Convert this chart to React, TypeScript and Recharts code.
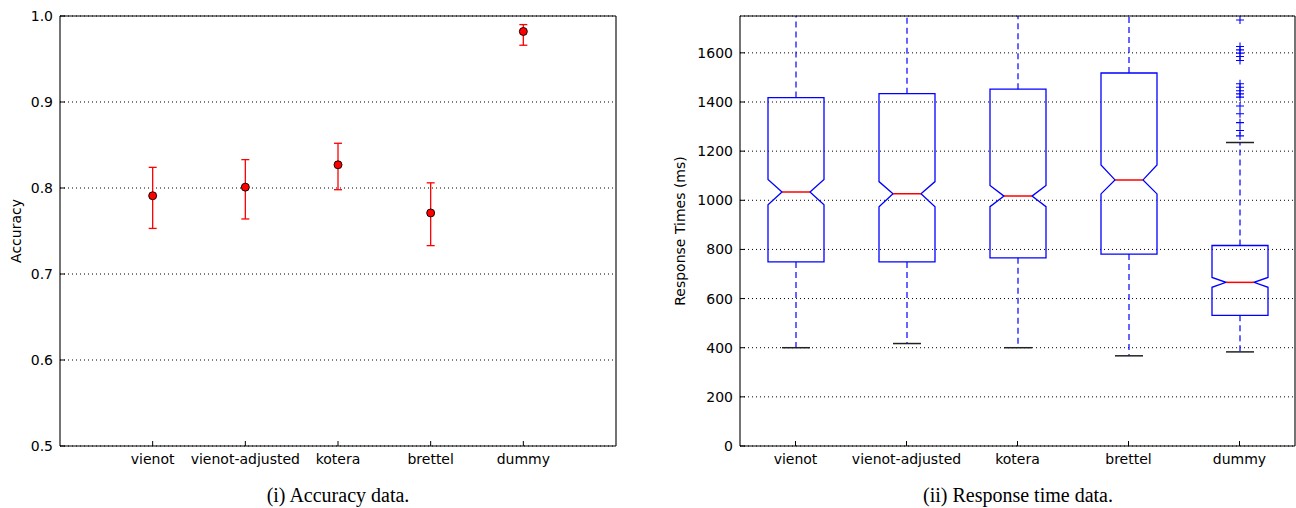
import React from 'react';
import {
  ComposedChart,
  Scatter,
  ErrorBar,
  Bar,
  XAxis,
  YAxis,
  CartesianGrid,
} from 'recharts';

// ---------- data ----------
const categories = ['vienot', 'vienot-adjusted', 'kotera', 'brettel', 'dummy'];

// Accuracy (mean with confidence interval)
const accuracyMean = [0.791, 0.801, 0.827, 0.771, 0.982];
const accuracyLow = [0.753, 0.764, 0.798, 0.733, 0.966];
const accuracyHigh = [0.824, 0.833, 0.852, 0.806, 0.99];
const accuracyTicks = [0.5, 0.6, 0.7, 0.8, 0.9, 1.0];

// Response times (notched box plot statistics, ms)
const rtWhiskerLow = [400, 417, 400, 367, 383];
const rtQ1 = [749, 749, 766, 781, 532];
const rtNotchLow = [982, 974, 974, 1026, 646];
const rtMedian = [1034, 1027, 1017, 1083, 666];
const rtNotchHigh = [1085, 1076, 1060, 1144, 686];
const rtQ3 = [1418, 1434, 1452, 1518, 816];
const rtWhiskerHigh = [2400, 2450, 2480, 2600, 1235];
const dummyOutliers = [
  1262, 1284, 1316, 1352, 1384, 1420, 1433, 1446, 1460, 1474, 1569, 1585, 1599,
  1612, 1626, 1734,
];
const rtOutliers = [[], [], [], [], dummyOutliers];
const rtTicks = [0, 200, 400, 600, 800, 1000, 1200, 1400, 1600];

// ---------- tables ----------
const accuracyData = categories.map((name, i) => ({
  name,
  pos: i + 1,
  acc: accuracyMean[i],
  err: [accuracyMean[i] - accuracyLow[i], accuracyHigh[i] - accuracyMean[i]],
}));
const catPositions = categories.map((_, i) => i + 1);

const rtData = categories.map((name, i) => ({
  name,
  box: [rtQ1[i], rtQ3[i]],
  q1: rtQ1[i],
  q3: rtQ3[i],
  wl: rtWhiskerLow[i],
  wh: rtWhiskerHigh[i],
  nl: rtNotchLow[i],
  nh: rtNotchHigh[i],
  med: rtMedian[i],
  out: rtOutliers[i],
}));

// ---------- styles ----------
const FONT = 'DejaVu Sans';
const tickStyle = { fontSize: 14, fill: '#000', fontFamily: FONT };
const BLUE = '#0000ff';

const BoxShape = (props: any) => {
  const { x, y, width, height, payload } = props;
  if (x == null || y == null || !payload) return null;
  const { q1, q3, wl, wh, nl, nh, med, out } = payload;
  const py = (v: number) => y + (height * (q3 - v)) / (q3 - q1);
  const cx = x + width / 2;
  const l = x;
  const r = x + width;
  const n = width / 4;
  const capHalf = width / 4;
  const d = [
    `M${l},${py(q1)}`,
    `L${l},${py(nl)}`,
    `L${l + n},${py(med)}`,
    `L${l},${py(nh)}`,
    `L${l},${py(q3)}`,
    `L${r},${py(q3)}`,
    `L${r},${py(nh)}`,
    `L${r - n},${py(med)}`,
    `L${r},${py(nl)}`,
    `L${r},${py(q1)}`,
    'Z',
  ].join(' ');
  return (
    <g>
      <line x1={cx} x2={cx} y1={py(q3)} y2={py(wh)} stroke={BLUE} strokeWidth={1.2} strokeDasharray="6 4" />
      <line x1={cx} x2={cx} y1={py(q1)} y2={py(wl)} stroke={BLUE} strokeWidth={1.2} strokeDasharray="6 4" />
      <line x1={cx - capHalf} x2={cx + capHalf} y1={py(wl)} y2={py(wl)} stroke="#222" strokeWidth={1.5} />
      <line x1={cx - capHalf} x2={cx + capHalf} y1={py(wh)} y2={py(wh)} stroke="#222" strokeWidth={1.5} />
      <path d={d} fill="none" stroke={BLUE} strokeWidth={1.3} />
      <line x1={l + n} x2={r - n} y1={py(med)} y2={py(med)} stroke="#ff0000" strokeWidth={1.5} />
      {(out as number[]).map((v, k) => (
        <path
          key={k}
          d={`M${cx - 4},${py(v)} L${cx + 4},${py(v)} M${cx},${py(v) - 4} L${cx},${py(v) + 4}`}
          stroke={BLUE}
          strokeWidth={1.1}
          fill="none"
        />
      ))}
    </g>
  );
};

const Dot = (p: any) => (
  <circle cx={p.cx} cy={p.cy} r={4} fill="#ff0000" stroke="#000" strokeWidth={0.9} />
);

const captionStyle: React.CSSProperties = {
  position: 'absolute',
  top: 483,
  height: 24,
  lineHeight: '24px',
  width: 556,
  textAlign: 'center',
  fontFamily: 'Liberation Serif',
  fontSize: 20,
  color: '#000',
};

const frameLine = { stroke: '#000', strokeWidth: 1.1 };

function AccuracyChart() {
  return (
    <ComposedChart
      width={640}
      height={470}
      data={accuracyData}
      margin={{ top: 15, right: 23, bottom: 4, left: 10 }}
    >
      <CartesianGrid horizontal vertical={false} stroke="#000" strokeDasharray="1 3" />
      <XAxis
        dataKey="pos"
        type="number"
        domain={[0, 6]}
        ticks={catPositions}
        tickFormatter={(v: number) => categories[v - 1] ?? ''}
        interval={0}
        height={20}
        tickSize={-5}
        tickMargin={13}
        tick={tickStyle}
        axisLine={frameLine}
        tickLine={{ stroke: '#000' }}
      />
      <XAxis
        xAxisId="top"
        orientation="top"
        dataKey="pos"
        type="number"
        domain={[0, 6]}
        ticks={catPositions}
        height={1}
        tickSize={-5}
        tick={false}
        axisLine={frameLine}
        tickLine={{ stroke: '#000' }}
      />
      <YAxis
        type="number"
        domain={[0.5, 1.0]}
        ticks={accuracyTicks}
        tickFormatter={(v: number) => v.toFixed(1)}
        width={50}
        tickSize={-5}
        tickMargin={12}
        tick={tickStyle}
        axisLine={frameLine}
        tickLine={{ stroke: '#000' }}
        allowDataOverflow
        label={{
          value: 'Accuracy',
          angle: -90,
          position: 'insideLeft',
          offset: 6,
          style: { textAnchor: 'middle', fontSize: 14, fontFamily: FONT, fill: '#000' },
        }}
      />
      <YAxis
        yAxisId="r"
        orientation="right"
        type="number"
        domain={[0.5, 1.0]}
        ticks={accuracyTicks}
        width={1}
        tickSize={-5}
        tick={false}
        axisLine={frameLine}
        tickLine={{ stroke: '#000' }}
      />
      <Scatter dataKey="acc" isAnimationActive={false} shape={Dot}>
        <ErrorBar dataKey="err" direction="y" width={4} stroke="#ff0000" strokeWidth={1.3} />
      </Scatter>
    </ComposedChart>
  );
}

function ResponseChart() {
  return (
    <ComposedChart
      width={646}
      height={470}
      data={rtData}
      margin={{ top: 15, right: 0, bottom: 4, left: 10 }}
    >
      <CartesianGrid horizontal vertical={false} stroke="#000" strokeDasharray="1 3" />
      <XAxis
        dataKey="name"
        type="category"
        interval={0}
        height={20}
        tickSize={-5}
        tickMargin={13}
        tick={tickStyle}
        axisLine={frameLine}
        tickLine={{ stroke: '#000' }}
      />
      <XAxis
        xAxisId="top"
        orientation="top"
        dataKey="name"
        type="category"
        interval={0}
        height={1}
        tickSize={-5}
        tick={false}
        axisLine={frameLine}
        tickLine={{ stroke: '#000' }}
      />
      <YAxis
        type="number"
        domain={[0, 1750]}
        ticks={rtTicks}
        width={80}
        tickSize={-5}
        tickMargin={12}
        tick={tickStyle}
        axisLine={frameLine}
        tickLine={{ stroke: '#000' }}
        allowDataOverflow
        label={{
          value: 'Response Times (ms)',
          angle: -90,
          position: 'insideLeft',
          offset: 20,
          style: { textAnchor: 'middle', fontSize: 14, fontFamily: FONT, fill: '#000' },
        }}
      />
      <YAxis
        yAxisId="r"
        orientation="right"
        type="number"
        domain={[0, 1750]}
        ticks={rtTicks}
        width={1}
        tickSize={-5}
        tick={false}
        axisLine={frameLine}
        tickLine={{ stroke: '#000' }}
      />
      <Bar dataKey="box" barSize={56} isAnimationActive={false} shape={BoxShape} />
    </ComposedChart>
  );
}

export default function App() {
  return (
    <div
      style={{
        position: 'absolute',
        left: 0,
        top: 0,
        width: 1296,
        height: 508,
        background: '#fff',
        overflow: 'hidden',
      }}
    >
      <div style={{ position: 'absolute', left: 0, top: 0 }}>
        <AccuracyChart />
      </div>
      <div style={{ position: 'absolute', left: 650, top: 0 }}>
        <ResponseChart />
      </div>
      <div style={{ ...captionStyle, left: 60 }}>(i) Accuracy data.</div>
      <div style={{ ...captionStyle, left: 740 }}>(ii) Response time data.</div>
    </div>
  );
}
